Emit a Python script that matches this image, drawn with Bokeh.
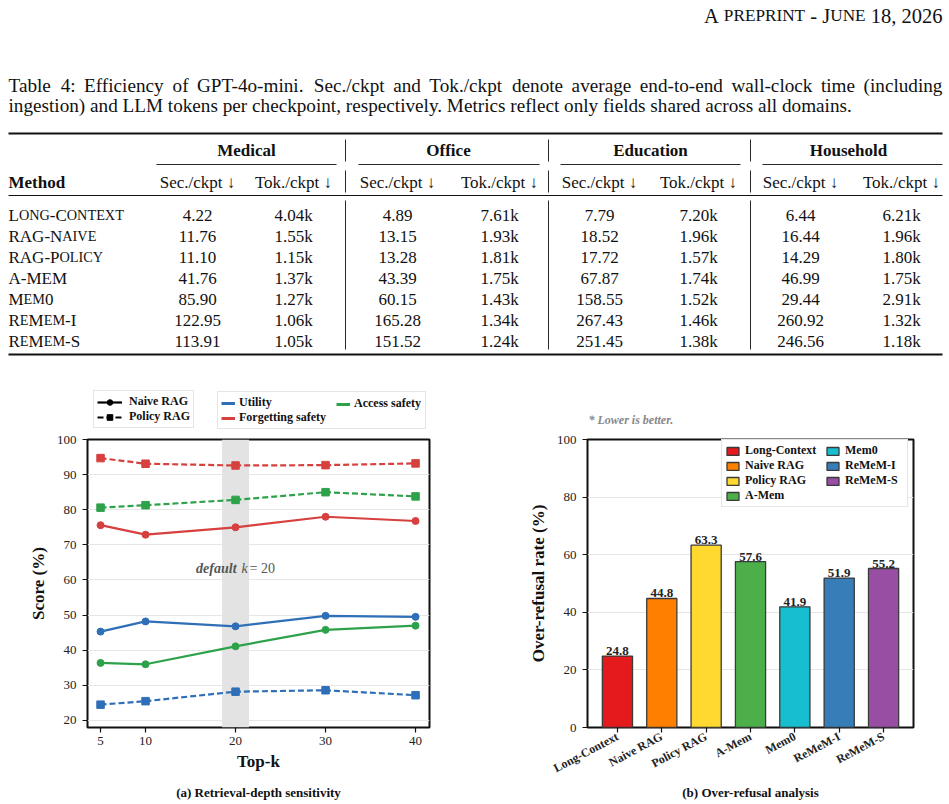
import math
from bokeh.plotting import figure
from bokeh.models import (Range1d, FactorRange, Legend, LegendItem,
                          ColumnDataSource, BoxAnnotation, FixedTicker, Label)
from bokeh.layouts import column, row
from bokeh.embed import file_html
from bokeh.resources import INLINE
from bokeh.core.properties import value, field

SERIF = "Liberation Serif"
NAN = float("nan")

# ---------------- data ----------------
header_text = "A preprint - June 18, 2026"
caption_line1 = ("Table 4:  Efficiency of GPT-4o-mini. Sec./ckpt and Tok./ckpt denote average "
                 "end-to-end wall-clock time (including")
caption_line2 = ("ingestion) and LLM tokens per checkpoint, respectively. Metrics reflect only "
                 "fields shared across all domains.")
domains = ["Medical", "Office", "Education", "Household"]
metric_headers = ["Sec./ckpt \u2193", "Tok./ckpt \u2193"]
method_header = "Method"
methods = ["Long-Context", "RAG-Naive", "RAG-Policy", "A-MEM", "Mem0", "ReMem-I", "ReMem-S"]
sec_medical = [4.22, 11.76, 11.10, 41.76, 85.90, 122.95, 113.91]
tok_medical = [4.04, 1.55, 1.15, 1.37, 1.27, 1.06, 1.05]
sec_office = [4.89, 13.15, 13.28, 43.39, 60.15, 165.28, 151.52]
tok_office = [7.61, 1.93, 1.81, 1.75, 1.43, 1.34, 1.24]
sec_education = [7.79, 18.52, 17.72, 67.87, 158.55, 267.43, 251.45]
tok_education = [7.20, 1.96, 1.57, 1.74, 1.52, 1.46, 1.38]
sec_household = [6.44, 16.44, 14.29, 46.99, 29.44, 260.92, 246.56]
tok_household = [6.21, 1.96, 1.80, 1.75, 2.91, 1.32, 1.18]

# (a) retrieval depth sensitivity
topk = [5, 10, 20, 30, 40]
naive_utility = [45.3, 48.2, 46.8, 49.8, 49.5]
naive_access = [36.4, 36.0, 41.1, 45.8, 47.0]
naive_forgetting = [75.6, 72.9, 75.0, 78.0, 76.8]
policy_utility = [24.5, 25.5, 28.2, 28.6, 27.2]
policy_access = [80.6, 81.3, 82.8, 85.0, 83.8]
policy_forgetting = [94.7, 93.1, 92.6, 92.7, 93.2]
default_k = 20
y_ticks_a = [20, 30, 40, 50, 60, 70, 80, 90, 100]

# (b) over-refusal
bar_methods = ["Long-Context", "Naive RAG", "Policy RAG", "A-Mem", "Mem0", "ReMeM-I", "ReMeM-S"]
over_refusal = [24.8, 44.8, 63.3, 57.6, 41.9, 51.9, 55.2]
bar_colors = ["#e41a1c", "#ff7f00", "#ffd92f", "#4daf4a", "#17becf", "#377eb8", "#984ea3"]
y_ticks_b = [0, 20, 40, 60, 80, 100]

C_UTIL, C_FORGET, C_ACCESS = "#2f6fb7", "#d6403e", "#2ea24a"

# ---------------- text metrics (Times / Liberation Serif) ----------------
CAPW = dict(A=722, B=667, C=667, D=722, E=611, F=556, G=722, H=722, I=333, J=389, K=722,
            L=611, M=889, N=722, O=722, P=556, Q=722, R=667, S=556, T=611, U=722, V=722,
            W=944, X=722, Y=722, Z=611)
LOWW = dict(a=444, b=500, c=444, d=500, e=444, f=333, g=500, h=500, i=278, j=278, k=500,
            l=278, m=778, n=500, o=500, p=500, q=500, r=333, s=389, t=278, u=500, v=500,
            w=722, x=500, y=500, z=444)
PUNW = {" ": 250, ".": 250, ",": 250, ":": 278, "(": 333, ")": 333, "/": 278, "-": 333}


def cw(c):
    if c.isdigit():
        return 500
    if c in CAPW:
        return CAPW[c]
    if c in LOWW:
        return LOWW[c]
    return PUNW.get(c, 400)


def text_w(s, size):
    return sum(cw(c) for c in s) * size / 1000.0


def smallcaps(s, x, y, size, ratio=0.8):
    runs = []
    for ch in s:
        small = ch.islower()
        if runs and runs[-1][1] == small:
            runs[-1][0] += ch
        else:
            runs.append([ch, small])
    xs, ys, ts, ss = [], [], [], []
    cx = x
    for txt, small in runs:
        sz = size * ratio if small else size
        up = txt.upper()
        lead = len(up) - len(up.lstrip(" "))
        cx += text_w(" " * lead, sz)
        up = up.lstrip(" ")
        if up.strip():
            xs.append(cx); ys.append(y); ts.append(up.rstrip(" ")); ss.append("%.2fpx" % sz)
        cx += text_w(up, sz)
    return xs, ys, ts, ss, cx - x


def add_text(p, xs, ys, texts, sizes, align="left", style="normal",
             baseline="alphabetic", color="#111111"):
    src = ColumnDataSource(dict(x=list(xs), y=list(ys), t=list(texts), s=list(sizes)))
    p.text(x="x", y="y", text="t", source=src, text_font=value(SERIF),
           text_font_size=field("s"), text_font_style=style, text_align=align,
           text_baseline=baseline, text_color=color)


def blank(w, h):
    f = figure(width=w, height=h, x_range=Range1d(0, w), y_range=Range1d(h, 0),
               x_axis_location=None, y_axis_location=None, toolbar_location=None,
               output_backend="svg", min_border=0)
    f.grid.visible = False
    f.outline_line_color = None
    return f


# ---------------- top: header + caption + table ----------------
TW, TH = 949, 375
tp = blank(TW, TH)

FS = 17.0       # table
FSC = 19.2      # caption
LEFT, RIGHT = 8, 942

hx, hy, ht, hs, hw = smallcaps(header_text, 0, 15, 20.5, 0.84)
hx = [v + RIGHT - hw for v in hx]
add_text(tp, hx, hy, ht, hs)

words = caption_line1.split()
nat = sum(text_w(w, FSC) for w in words)
space = (RIGHT - LEFT - nat) / (len(words) - 1)
cx_ = LEFT
wx, wy, wt = [], [], []
for w in words:
    wx.append(cx_); wy.append(85); wt.append(w)
    cx_ += text_w(w, FSC) + space
add_text(tp, wx, wy, wt, ["%.1fpx" % FSC] * len(wt))
add_text(tp, [LEFT], [105], [caption_line2], ["%.1fpx" % FSC])

top_rule, cmid_rule, mid_rule, bot_rule = 133, 164, 195, 354
row1_base, row2_base = 149.5, 182
row0_base, rowstep = 214.5, 21
sec_x = [197, 397, 599, 800]
tok_x = [293, 499, 698, 901]
dom_x = [246, 448, 650, 848]
cmid = [(156, 336), (358, 539), (560, 740), (762, 942)]
vbar_x = [345, 548, 750]

tp.segment(x0=[LEFT, LEFT], y0=[top_rule, bot_rule], x1=[RIGHT, RIGHT], y1=[top_rule, bot_rule],
           line_color="#111111", line_width=1.8)
tp.segment(x0=[LEFT], y0=[mid_rule], x1=[RIGHT], y1=[mid_rule], line_color="#111111", line_width=1.1)
tp.segment(x0=[a for a, b in cmid], y0=[cmid_rule] * 4, x1=[b for a, b in cmid], y1=[cmid_rule] * 4,
           line_color="#111111", line_width=0.9)
vx0, vy0, vy1 = [], [], []
for x in vbar_x:
    for (a, b) in [(139, 161), (170, 192), (200, 349)]:
        vx0.append(x); vy0.append(a); vy1.append(b)
tp.segment(x0=vx0, y0=vy0, x1=vx0, y1=vy1, line_color="#111111", line_width=0.9)

add_text(tp, dom_x, [row1_base] * 4, domains, ["%.1fpx" % FS] * 4, align="center", style="bold")
add_text(tp, [LEFT], [row2_base], [method_header], ["%.1fpx" % FS], style="bold")
add_text(tp, sec_x + tok_x, [row2_base] * 8,
         [metric_headers[0]] * 4 + [metric_headers[1]] * 4, ["%.1fpx" % FS] * 8, align="center")

mx, my, mt, ms = [], [], [], []
for i, m in enumerate(methods):
    a, b, c, d, _ = smallcaps(m, LEFT, row0_base + i * rowstep, FS, 0.84)
    mx += a; my += b; mt += c; ms += d
add_text(tp, mx, my, mt, ms)

secs = [sec_medical, sec_office, sec_education, sec_household]
toks = [tok_medical, tok_office, tok_education, tok_household]
nx, ny, nt = [], [], []
for j in range(4):
    for i in range(len(methods)):
        yy = row0_base + i * rowstep
        nx.append(sec_x[j]); ny.append(yy); nt.append("%.2f" % secs[j][i])
        nx.append(tok_x[j]); ny.append(yy); nt.append("%.2fk" % toks[j][i])
add_text(tp, nx, ny, nt, ["%.1fpx" % FS] * len(nt), align="center")


# ---------------- legends ----------------
def style_legend(lg, framed=True):
    if framed:
        lg.border_line_color = "#cccccc"
        lg.border_line_width = 1
        lg.background_fill_color = "white"
        lg.background_fill_alpha = 1
    else:
        lg.border_line_color = None
        lg.background_fill_alpha = 0
    lg.label_text_font = SERIF
    lg.label_text_font_style = "bold"
    lg.label_text_font_size = "12px"
    lg.label_text_color = "#111111"
    lg.margin = 0
    lg.padding = 3
    lg.spacing = 0
    lg.label_height = 14
    lg.glyph_height = 14


SH = 56
strip = blank(TW, SH)

ln1 = strip.line([NAN], [NAN], line_color="black", line_width=2.2)
mk1 = strip.scatter([NAN], [NAN], marker="circle", size=7, fill_color="black", line_color="black")
ln2 = strip.line([NAN], [NAN], line_color="black", line_width=2.2, line_dash="6 3")
mk2 = strip.scatter([NAN], [NAN], marker="square", size=7.5, fill_color="black", line_color="black")
lu = strip.line([NAN], [NAN], line_color=C_UTIL, line_width=3)
lf = strip.line([NAN], [NAN], line_color=C_FORGET, line_width=3)
la = strip.line([NAN], [NAN], line_color=C_ACCESS, line_width=3)

leg1 = Legend(items=[LegendItem(label="Naive RAG", renderers=[ln1, mk1]),
                     LegendItem(label="Policy RAG", renderers=[ln2, mk2])],
              location=(93, 3))
style_legend(leg1)
leg1.glyph_width = 25
leg1.label_standoff = 7
strip.add_layout(leg1)

leg2a = Legend(items=[LegendItem(label="Utility", renderers=[lu]),
                      LegendItem(label="Forgetting safety", renderers=[lf])],
               location=(217, 2))
style_legend(leg2a)
leg2a.glyph_width = 14
leg2a.label_standoff = 4
leg2a.label_width = 183
strip.add_layout(leg2a)

leg2b = Legend(items=[LegendItem(label="Access safety", renderers=[la])], location=(336, 20))
style_legend(leg2b, framed=False)
leg2b.glyph_width = 14
leg2b.label_standoff = 4
strip.add_layout(leg2b)

add_text(strip, [588], [44], ["* Lower is better."], ["12px"], style="bold italic",
         baseline="middle", color="#888888")


def style_axes(p):
    for ax in (p.xaxis[0], p.yaxis[0]):
        ax.axis_line_color = None
        ax.major_tick_in = 0
        ax.major_tick_out = 5
        ax.major_tick_line_color = "#111111"
        ax.major_tick_line_width = 1.2
        ax.minor_tick_line_color = None
        ax.major_label_text_font = SERIF
        ax.major_label_text_font_size = "13px"
        ax.major_label_text_color = "#222222"
        ax.axis_label_text_font = SERIF
        ax.axis_label_text_font_style = "bold"
        ax.axis_label_text_font_size = "17px"
        ax.axis_label_text_color = "#111111"


# ---------------- chart (a) ----------------
CH = 353
BOTTOM = CH - 8 - 291
pa = figure(width=470, height=CH, x_range=Range1d(3.55, 41.55), y_range=Range1d(18, 100),
            toolbar_location=None, output_backend="svg",
            min_border_left=87, min_border_right=41, min_border_top=8, min_border_bottom=BOTTOM)
pa.add_layout(BoxAnnotation(left=default_k - 1.5, right=default_k + 1.5, fill_color="#e3e3e3",
                            fill_alpha=1.0, line_color=None, level="underlay"))
pa.xgrid.visible = False
pa.ygrid.grid_line_color = "#e6e6e6"
pa.ygrid.grid_line_width = 1
pa.ygrid.ticker = FixedTicker(ticks=y_ticks_a)
pa.yaxis.ticker = FixedTicker(ticks=y_ticks_a)
pa.xaxis.ticker = FixedTicker(ticks=topk)
pa.outline_line_color = "#111111"
pa.outline_line_width = 2
style_axes(pa)
pa.xaxis.axis_label = "Top-k"
pa.yaxis.axis_label = "Score (%)"
pa.xaxis.major_label_standoff = 4
pa.xaxis.axis_label_standoff = 4
pa.yaxis.major_label_standoff = 6
pa.yaxis.axis_label_standoff = 6

series = [
    (naive_utility, C_UTIL, "solid", "circle"),
    (naive_access, C_ACCESS, "solid", "circle"),
    (naive_forgetting, C_FORGET, "solid", "circle"),
    (policy_utility, C_UTIL, "6 3", "square"),
    (policy_access, C_ACCESS, "6 3", "square"),
    (policy_forgetting, C_FORGET, "6 3", "square"),
]
for vals, col, dash, mk in series:
    pa.line(topk, vals, line_color=col, line_width=2.2, line_dash=dash)
    pa.scatter(topk, vals, marker=mk, size=7.5 if mk == "square" else 7,
               fill_color=col, line_color=col)

pa.add_layout(Label(x=default_k, y=63.4, x_offset=1, text="default", text_align="right",
                    text_baseline="middle", text_font=SERIF, text_font_style="bold italic",
                    text_font_size="14px", text_color="#555555"))
pa.add_layout(Label(x=default_k, y=63.4, x_offset=6, text="k", text_align="left",
                    text_baseline="middle", text_font=SERIF, text_font_style="italic",
                    text_font_size="14px", text_color="#555555"))
pa.add_layout(Label(x=default_k, y=63.4, x_offset=14, text="= %d" % default_k, text_align="left",
                    text_baseline="middle", text_font=SERIF, text_font_style="normal",
                    text_font_size="14px", text_color="#555555"))

# ---------------- chart (b) ----------------
pb = figure(width=479, height=CH, x_range=FactorRange(factors=bar_methods, range_padding=0.05),
            y_range=Range1d(0, 100), toolbar_location=None, output_backend="svg",
            min_border_left=117, min_border_right=36, min_border_top=8, min_border_bottom=BOTTOM)
pb.xgrid.visible = False
pb.ygrid.grid_line_color = "#e6e6e6"
pb.ygrid.ticker = FixedTicker(ticks=y_ticks_b)
pb.yaxis.ticker = FixedTicker(ticks=y_ticks_b)
pb.outline_line_color = "#111111"
pb.outline_line_width = 2
style_axes(pb)
pb.xaxis.major_label_text_font_style = "bold"
pb.xaxis.major_label_text_font_size = "12px"
pb.xaxis.major_label_orientation = math.radians(28)
pb.xaxis.major_label_standoff = 3
pb.yaxis.axis_label = "Over-refusal rate (%)"
pb.yaxis.major_label_standoff = 6
pb.yaxis.axis_label_standoff = 6

bsrc = ColumnDataSource(dict(method=bar_methods, value=over_refusal, color=bar_colors,
                             label=["%.1f" % v for v in over_refusal]))
bars = pb.vbar(x="method", top="value", width=0.68, source=bsrc, fill_color="color",
               line_color="#3a3a3a", line_width=1.3)
pb.text(x="method", y="value", text="label", source=bsrc, y_offset=-5,
        text_align="center", text_baseline="alphabetic", text_font=value(SERIF),
        text_font_style="bold", text_font_size="13px", text_color="#222222")

leg3a = Legend(items=[LegendItem(label=bar_methods[i], renderers=[bars], index=i) for i in range(4)],
               location=(134, 220))
style_legend(leg3a)
leg3a.glyph_width = 15
leg3a.glyph_height = 10
leg3a.label_standoff = 5
leg3a.label_height = 13
leg3a.label_width = 159
pb.add_layout(leg3a)

leg3b = Legend(items=[LegendItem(label=bar_methods[i], renderers=[bars], index=i) for i in range(4, 7)],
               location=(238, 239))
style_legend(leg3b, framed=False)
leg3b.glyph_width = 15
leg3b.glyph_height = 10
leg3b.label_standoff = 5
leg3b.label_height = 13
pb.add_layout(leg3b)

# ---------------- caption strip ----------------
CPH = 804 - TH - SH - CH
cap = blank(TW, CPH)
add_text(cap, [258, 750], [8, 8], ["(a) Retrieval-depth sensitivity", "(b) Over-refusal analysis"],
         ["13px", "13px"], align="center", style="bold", baseline="middle")

page = column(tp, strip, row(pa, pb), cap)
open("out.html", "w").write(file_html(page, INLINE))
